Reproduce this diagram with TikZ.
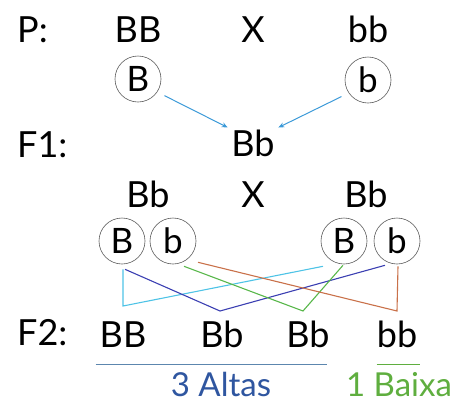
\documentclass[tikz,border=0pt]{standalone}
\usepackage{fontspec}
\setmainfont{Lato}
\usetikzlibrary{arrows.meta}
\definecolor{arrowblue}{HTML}{3C9AD8}
\definecolor{lcyan}{HTML}{4EC3E6}
\definecolor{lblue}{HTML}{3B3FB2}
\definecolor{lgreen}{HTML}{58B74A}
\definecolor{lorange}{HTML}{C9714A}
\definecolor{altablue}{HTML}{2F56A0}
\definecolor{rulblue}{HTML}{5C86AE}
\definecolor{baixagreen}{HTML}{5FAE3F}
\begin{document}
\begin{tikzpicture}[x=1pt,y=-1pt,
  lbl/.style={inner sep=0pt, anchor=base, font=\fontsize{36}{36}\selectfont},
  allele/.style={circle, draw=black!65, line width=0.6pt, minimum size=46pt, inner sep=0pt, font=\fontsize{35}{35}\selectfont},
  arr/.style={arrowblue, line width=1pt, -{Stealth[length=6pt,width=5pt]}},
  cross/.style={line width=1.1pt}]
\useasboundingbox (0,0) rectangle (461,405);
% parents
\node[lbl, anchor=base west] (lP) at (17,42) {P:};
\node[lbl] (pBB) at (138,42) {BB};
\node[lbl] (px) at (253,42) {X};
\node[lbl] (pbb) at (368,42) {bb};
\node[allele] (pB) at (138,79) {B};
\node[allele] (pb) at (368,80) {b};
% F1
\node[lbl, anchor=base west] (lF1) at (17,157) {F1:};
\node[lbl] (f1) at (253,156) {Bb};
\draw[arr, shorten <=8pt, shorten >=4pt] (pB.-34) -- (f1.north west);
\draw[arr, shorten <=8pt, shorten >=4pt] (pb.-146) -- (f1.north east);
% F1 x F1
\node[lbl] (fBbl) at (148,207) {Bb};
\node[lbl] (fx) at (253,207) {X};
\node[lbl] (fBbr) at (366,207) {Bb};
\node[allele] (lB) at (122,241) {B};
\node[allele] (lb) at (173,241) {b};
\node[allele] (rB) at (344,241) {B};
\node[allele] (rb) at (397,241) {b};
% F2
\node[lbl, anchor=base west] (lF2) at (17,345) {F2:};
\node[lbl] (gBB) at (123,347) {BB};
\node[lbl] (gBb1) at (222,347) {Bb};
\node[lbl] (gBb2) at (308,347) {Bb};
\node[lbl] (gbb) at (397,347) {bb};
\coordinate (kBB) at (123,306);
\coordinate (kBb1) at (220,311);
\coordinate (kBb2) at (303,311);
\coordinate (kbb) at (397,311);
\draw[cross, lcyan] ([shift={(-21,2)}]rB.south) -- (kBB) -- ([shift={(1,5)}]lB.south);
\draw[cross, lblue] ([shift={(3,5)}]lB.south) -- (kBb1) -- ([shift={(-12,1)}]rb.south);
\draw[cross, lgreen] ([shift={(11,2)}]lb.south) -- (kBb2) -- ([shift={(-1,1)}]rB.south);
\draw[cross, lorange] ([shift={(25,-2)}]lb.south) -- (kbb) -- ([shift={(1,2)}]rb.south);
% ratio
\draw[rulblue, line width=1pt] ([shift={(-4,17)}]gBB.base west) -- ([shift={(-3,17)}]gBb2.base east);
\draw[baixagreen, line width=1pt] ([shift={(0,17)}]gbb.base west) -- ([shift={(3,17)}]gbb.base east);
\node[lbl, altablue, font=\fontsize{33}{33}\selectfont] (alta) at (221,396) {3 Altas};
\node[lbl, baixagreen, font=\fontsize{33}{33}\selectfont] (baixa) at (399,396) {1 Baixa};
\end{tikzpicture}
\end{document}
